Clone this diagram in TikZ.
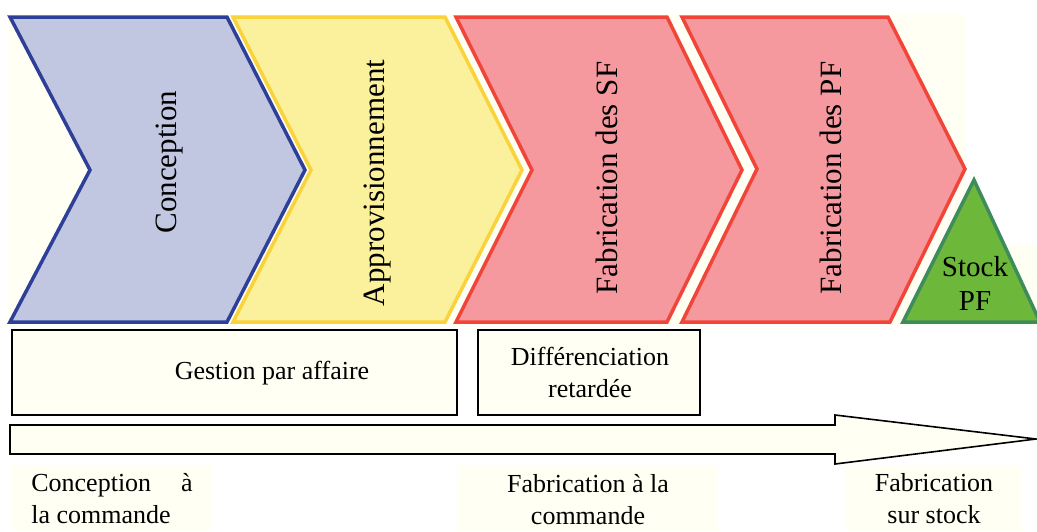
\documentclass[tikz,border=0pt]{standalone}
\usepackage{fontspec}
\setmainfont{Liberation Serif}
\definecolor{cream}{HTML}{FFFFF3}
\definecolor{bluest}{HTML}{2E3F99}
\definecolor{bluefill}{HTML}{C1C7E0}
\definecolor{yelst}{HTML}{F9D23C}
\definecolor{yelfill}{HTML}{FBF09B}
\definecolor{redst}{HTML}{F2453A}
\definecolor{redfill}{HTML}{F6999F}
\definecolor{grnfill}{HTML}{6DB73A}
\definecolor{grnst}{HTML}{3E8C5C}
\tikzset{
  chev/.style={line width=3.5pt, line join=miter},
  vlabel/.style={rotate=90, font=\fontsize{31}{36}\selectfont, inner sep=0pt},
  infobox/.style={draw=black, line width=1.6pt, fill=cream},
  btext/.style={font=\fontsize{26}{32}\selectfont, align=center, inner sep=0pt},
}
\begin{document}
\begin{tikzpicture}[x=1pt,y=-1pt]
\useasboundingbox[fill=white] (0,0) rectangle (1037,531);
% cream backgrounds
\fill[cream] (8,14) rectangle (965,326);
\fill[cream] (927,243) rectangle (1037,326);
\fill[cream] (12,465) rectangle (212,531);
\fill[cream] (457,465) rectangle (718,531);
\fill[cream] (845,465) rectangle (1022,531);
% chevrons
\draw[chev, draw=bluest, fill=bluefill] (10,17) -- (227,17) -- (305,170) -- (227,322) -- (10,322) -- (90,170) -- cycle;
\draw[chev, draw=yelst, fill=yelfill] (233,17) -- (445,17) -- (522,170) -- (445,322) -- (233,322) -- (311,170) -- cycle;
\draw[chev, draw=redst, fill=redfill] (456,17) -- (667,17) -- (742,170) -- (667,322) -- (456,322) -- (532,170) -- cycle;
\draw[chev, draw=redst, fill=redfill] (682,17) -- (888,17) -- (965,169) -- (890,322) -- (682,322) -- (757,169) -- cycle;
% triangle
\draw[line width=3.5pt, draw=grnst, fill=grnfill, line join=miter] (974,180) -- (1040,322) -- (903,322) -- cycle;
% chevron labels
\node[vlabel] (conc) at (170,162) {Conception};
\node[vlabel] (appro) at (378,183) {Approvisionnement};
\node[vlabel] (fsf) at (607,178) {Fabrication des SF};
\node[vlabel] (fpf) at (831,178) {Fabrication des PF};
\node[font=\fontsize{29}{34}\selectfont, align=center, inner sep=0pt] (stock) at (975,283) {Stock\\PF};
% boxes
\draw[infobox] (12,330) rectangle (457,415);
\node[btext] (gest) at (272,373) {Gestion par affaire};
\draw[infobox] (478,330) rectangle (700,415);
\node[btext] (diff) at (590,372) {Différenciation\\retardée};
% arrow
\draw[line width=1.6pt, fill=cream, line join=miter] (10,425) -- (835,425) -- (835,415) -- (1036,439) -- (835,464) -- (835,454) -- (10,454) -- cycle;
% bottom labels
\node[btext, align=left] (cac) at (112,499) {Conception\hspace{0.9em} à\\la commande};
\node[btext] (fac) at (588,500) {Fabrication à la\\commande};
\node[btext] (fss) at (934,499) {Fabrication\\sur stock};
\end{tikzpicture}
\end{document}
